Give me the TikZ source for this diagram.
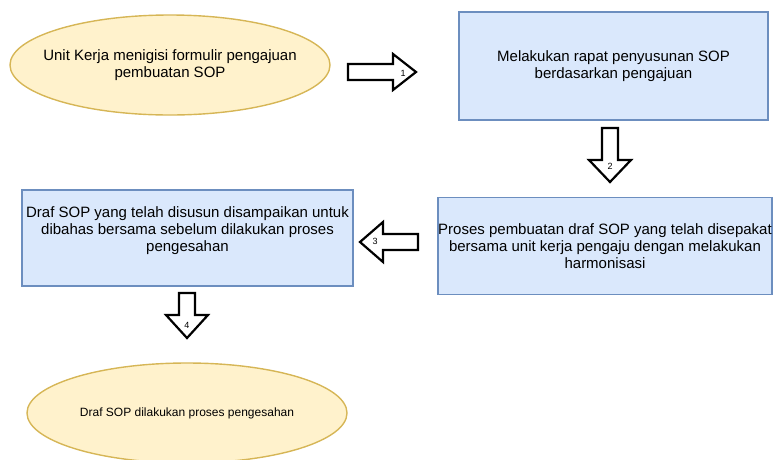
\documentclass[tikz,border=0pt]{standalone}
\usepackage{fontspec}
\setmainfont{Liberation Sans}
\usetikzlibrary{shapes.geometric}
\definecolor{oval fill}{HTML}{FFF2CC}
\definecolor{oval line}{HTML}{D6B656}
\definecolor{box fill}{HTML}{DAE8FC}
\definecolor{box line}{HTML}{6C8EBF}
\tikzset{
  oval/.style={ellipse, draw=oval line, fill=oval fill, line width=1.4pt,
    minimum width=320pt, minimum height=100pt, inner sep=0pt},
  ovaltext/.style={align=center, inner sep=0pt},
  stepbox/.style={rectangle, draw=box line, fill=box fill, line width=1.4pt,
    align=center, inner sep=0pt},
  blk/.style={draw=black, fill=white, line width=2.2pt, line join=miter},
  num/.style={font=\fontsize{9}{9}\selectfont, inner sep=0pt}
}

\begin{document}
\begin{tikzpicture}[x=1pt, y=-1pt, font=\fontsize{15}{17}\selectfont]
  \useasboundingbox (0,0) rectangle (774,459);
  % steps
  \node[oval] (usul) at (170,65) {};
  \node[ovaltext] (usul text) at (usul.center) {Unit Kerja menigisi formulir pengajuan\\pembuatan SOP};
  \node[stepbox, minimum width=309pt, minimum height=108pt] (rapat) at (613.5,66)
    {Melakukan rapat penyusunan SOP\\berdasarkan pengajuan};
  \node[stepbox, minimum width=334pt, minimum height=97pt] (draf) at (605,246)
    {Proses pembuatan draf SOP yang telah disepakat\\bersama unit kerja pengaju dengan melakukan\\harmonisasi};
  \node[stepbox, minimum width=331pt, minimum height=96pt] (bahas) at (187.5,238) {};
  \node[ovaltext] (bahas text) at (187.5,231)
    {Draf SOP yang telah disusun disampaikan untuk\\dibahas bersama sebelum dilakukan proses\\pengesahan};
  \node[oval] (sah) at (187,413) {};
  \node[ovaltext, font=\fontsize{12}{14}\selectfont] (sah text) at (sah.center) {Draf SOP dilakukan proses pengesahan};
  % block arrows
  \draw[blk] (348,64) -- (393,64) -- (393,54) -- (416,72) -- (393,90) -- (393,80) -- (348,80) -- cycle;
  \node[num] (n1) at (403,73) {1};
  \draw[blk] (602,128) -- (602,160) -- (589,160) -- (610,182) -- (631,160) -- (618,160) -- (618,128) -- cycle;
  \node[num] (n2) at (610,166) {2};
  \draw[blk] (418,234) -- (383,234) -- (383,222) -- (360,242) -- (383,262) -- (383,250) -- (418,250) -- cycle;
  \node[num] (n3) at (375,241) {3};
  \draw[blk] (179,293) -- (179,315) -- (166,315) -- (187,338) -- (208,315) -- (195,315) -- (195,293) -- cycle;
  \node[num] (n4) at (187,325) {4};
\end{tikzpicture}
\end{document}
